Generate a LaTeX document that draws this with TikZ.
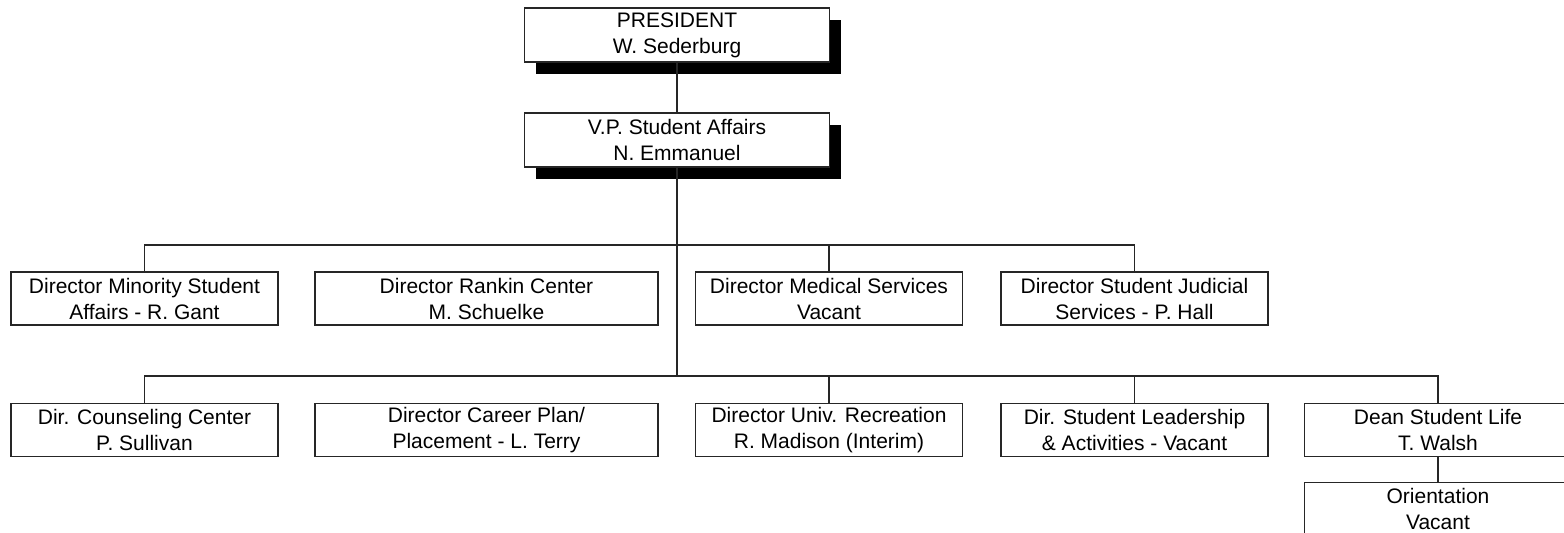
\documentclass[tikz,border=0pt]{standalone}
\usepackage{fontspec}
\setmainfont{Liberation Sans}
\usepackage{tikz}
\usetikzlibrary{shadows}
\usetikzlibrary{positioning}

\begin{document}
\begin{tikzpicture}[
	x=0.5pt, y=-0.5pt,
	every node/.style={font=\fontsize{10.5}{13}\selectfont},
  unit/.style = {draw=black!85,line width=0.6pt,fill=white,align=center,inner sep=0pt,minimum width=133.5pt,minimum height=26.5pt},
  wide/.style = {unit,minimum width=171.5pt},
  head/.style = {unit,minimum width=152.5pt,minimum height=27pt,drop shadow={shadow xshift=5.5pt,shadow yshift=-6pt,opacity=1,fill=black}},
  link/.style = {draw=black!85,line width=0.6pt}
  ]
	\clip (0,0) rectangle (1564,532);

	\coordinate (@b1) at (677,245);
	\coordinate (@b2) at (677,376);

	% top of the chart
	\node[head] (pres) at (677,35) {PRESIDENT\\W. Sederburg};
	\node[head] (vp) at (677,140) {V.P. Student Affairs\\N. Emmanuel};

	% first row
	\node[unit] (minority) at (144.5,298.5) {Director Minority Student\\Affairs - R. Gant};
	\node[wide] (rankin) at (486.5,298.5) {Director Rankin Center\\M. Schuelke};
	\node[unit] (medical) at (829,298.5) {Director Medical Services\\Vacant};
	\node[unit] (judicial) at (1134.5,298.5) {Director Student Judicial\\Services - P. Hall};

	% second row
	\node[unit] (counsel) at (144.5,430) {Dir. Counseling Center\\P. Sullivan};
	\node[wide] (career) at (486.5,430) {Director Career Plan/\\Placement - L. Terry};
	\node[unit] (recreation) at (829,430) {Director Univ. Recreation\\R. Madison (Interim)};
	\node[unit] (leadership) at (1134.5,430) {Dir. Student Leadership\\\& Activities - Vacant};
	\node[unit] (dean) at (1438,430) {Dean Student Life\\T. Walsh};
	\node[unit] (orient) at (1438,509) {Orientation\\Vacant};

	\draw[link] (pres.south) -- (vp.north);
	\draw[link] (vp.south) -- (@b2);

	\draw[link] (minority.north) |- (@b1) -| (judicial.north);
	\draw[link] (medical.north) -- (medical.north |- @b1);

	\draw[link] (counsel.north) |- (@b2) -| (dean.north);
	\draw[link] (recreation.north) -- (recreation.north |- @b2);
	\draw[link] (leadership.north) -- (leadership.north |- @b2);
	\draw[link] (dean.south) -- (orient.north);

\end{tikzpicture}
\end{document}
